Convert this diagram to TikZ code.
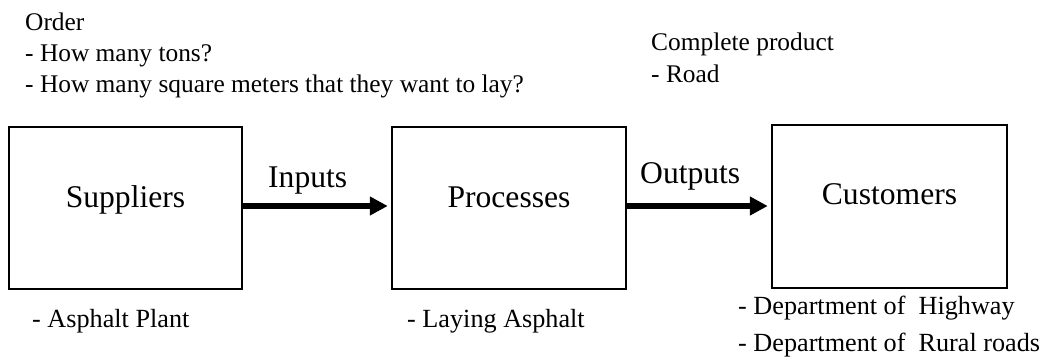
\documentclass[tikz,border=0pt]{standalone}
\usepackage{fontspec}
\setmainfont{Liberation Serif}
\usetikzlibrary{arrows.meta}
\tikzset{
  blockbox/.style={draw=black, line width=2.5pt, inner sep=0pt},
  bigtext/.style={font=\fontsize{31.6}{36}\selectfont, inner sep=0pt, anchor=base},
  smalltext/.style={font=\fontsize{25.4}{30}\selectfont, inner sep=0pt, anchor=base west},
  bottomtext/.style={font=\fontsize{26.2}{30}\selectfont, inner sep=0pt, anchor=base west},
  flowarrow/.style={line width=6pt, -{Triangle[length=18pt,width=18pt]}}
}
\begin{document}
\begin{tikzpicture}[x=1pt,y=-1pt]
\useasboundingbox (0,0) rectangle (1047,363);
% boxes
\node[blockbox, minimum width=233pt, minimum height=162pt] (s) at (125.5,208) {};
\node[blockbox, minimum width=234pt, minimum height=162pt] (p) at (509,208) {};
\node[blockbox, minimum width=235pt, minimum height=163pt] (c) at (889.5,206.5) {};
% box labels
\node[bigtext] (st) at (125.5,208) {Suppliers};
\node[bigtext] (pt) at (509,208) {Processes};
\node[bigtext] (ct) at (889.5,205) {Customers};
% arrows
\draw[flowarrow] ([yshift=2pt]s.east) -- ([yshift=2pt,xshift=-3pt]s.east -| p.west);
\draw[flowarrow] ([yshift=2pt]p.east) -- ([yshift=2pt,xshift=-3pt]p.east -| c.west);
\node[bigtext, anchor=base west] (in) at (268,188) {Inputs};
\node[bigtext, anchor=base west] (out) at (640,184) {Outputs};
% top notes
\node[smalltext] (o1) at (25,31) {Order};
\node[smalltext] (o2) at (25,62) {- How many tons?};
\node[smalltext] (o3) at (25,93) {- How many square meters that they want to lay?};
\node[smalltext] (r1) at (651,51) {Complete product};
\node[smalltext] (r2) at (651,83) {- Road};
% bottom notes
\node[bottomtext] (b1) at (32,327) {- Asphalt Plant};
\node[bottomtext] (b2) at (407,327) {- Laying Asphalt};
\node[bottomtext] (b3) at (738,315) {- Department of\ \ Highway};
\node[bottomtext] (b4) at (738,352) {- Department of\ \ Rural roads};
\end{tikzpicture}
\end{document}
